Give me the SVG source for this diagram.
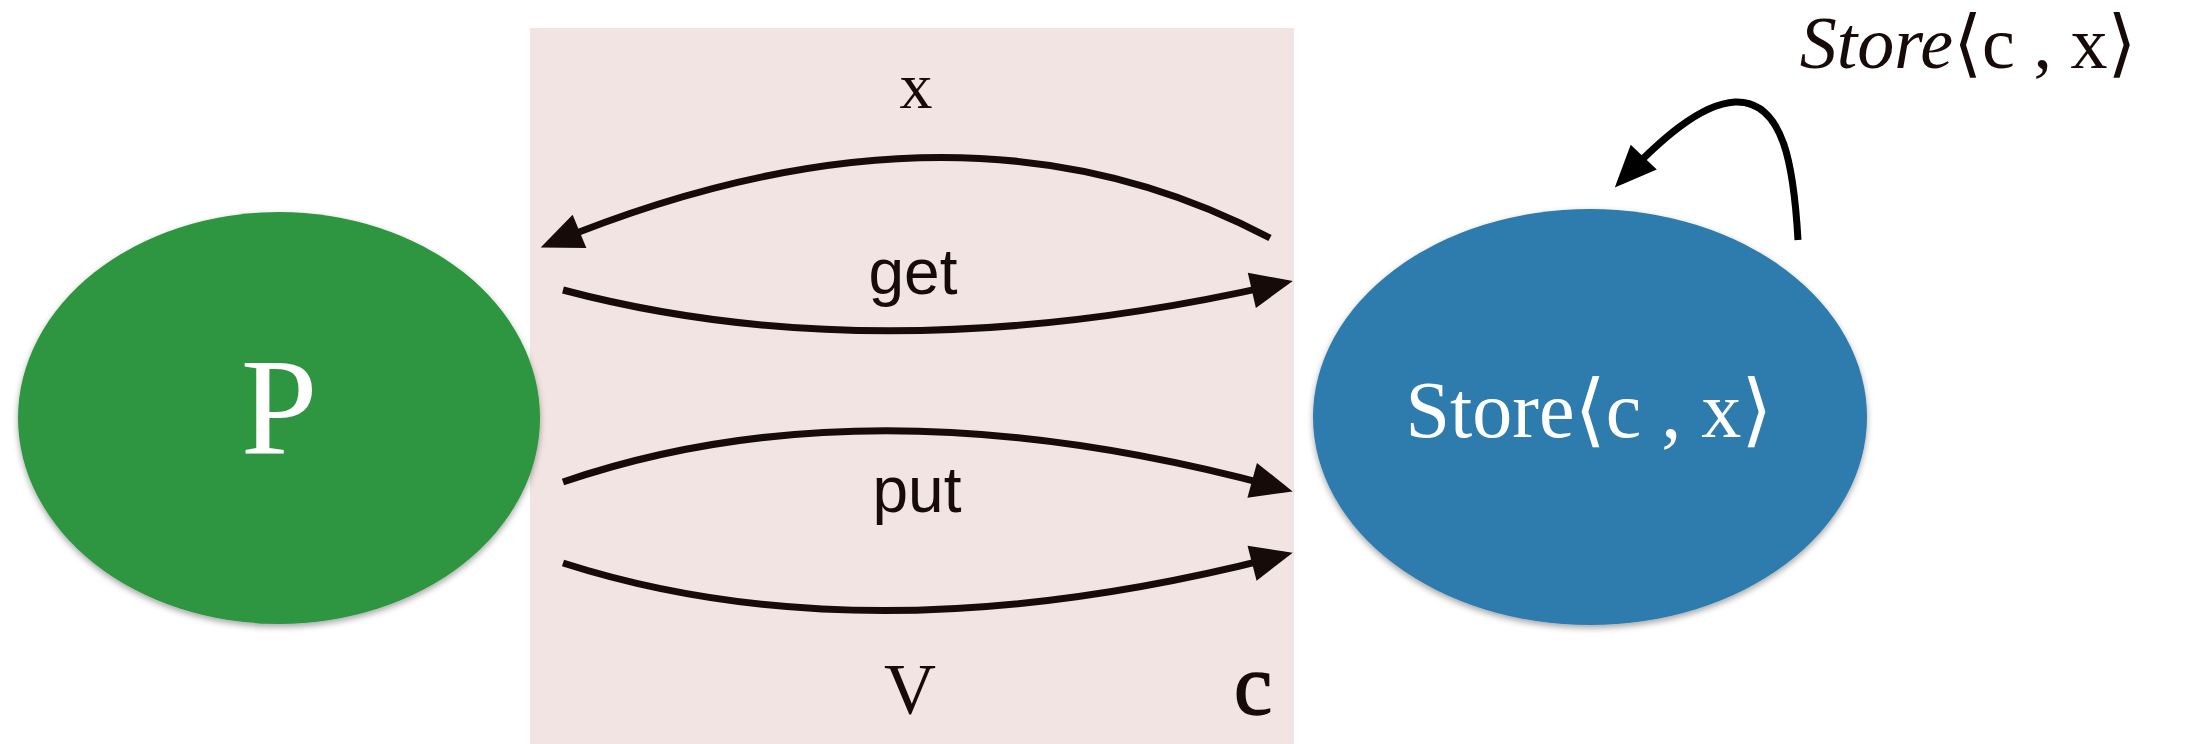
<svg xmlns="http://www.w3.org/2000/svg" width="2186" height="744" viewBox="0 0 2186 744">
<defs>
<style>
.lbl{font-family:"Liberation Serif","DejaVu Serif",serif;fill:#170b09}
.sans{font-family:"Liberation Sans","DejaVu Sans",sans-serif;fill:#170b09}
.wt{font-family:"Liberation Serif","DejaVu Serif",serif;fill:#ffffff}
.arr{fill:none;stroke:#170b09;stroke-width:7}
.loop{fill:none;stroke:#000000;stroke-width:7}
</style>
<marker id="ah" markerUnits="userSpaceOnUse" markerWidth="46" markerHeight="40" refX="33" refY="18" orient="auto" overflow="visible">
<path d="M0,0 L42,18 L0,36 z" fill="#170b09"/>
</marker>
<marker id="ahk" markerUnits="userSpaceOnUse" markerWidth="46" markerHeight="40" refX="33" refY="18" orient="auto" overflow="visible">
<path d="M0,0 L42,18 L0,36 z" fill="#000000"/>
</marker>
<filter id="sh" x="-10%" y="-10%" width="120%" height="125%">
<feDropShadow dx="0" dy="3" stdDeviation="3" flood-color="#000" flood-opacity="0.35"/>
</filter>
</defs>
<rect width="2186" height="744" fill="#ffffff"/>
<g id="channel">
<rect x="530" y="28" width="764" height="716" fill="#f2e4e2"/>
<text class="lbl" x="1253" y="714" font-size="86" text-anchor="middle" stroke="#170b09" stroke-width="1.5">c</text>
</g>
<g id="P">
<ellipse cx="279" cy="418" rx="261" ry="206" fill="#2e963f" filter="url(#sh)"/>
<text class="wt" x="279" y="453" font-size="138" text-anchor="middle">P</text>
</g>
<g id="Store">
<ellipse cx="1590" cy="417" rx="277" ry="208" fill="#2e7cad" filter="url(#sh)"/>
<text class="wt" x="1589" y="437" font-size="80" text-anchor="middle">Store⟨c , x⟩</text>
</g>
<g id="connectors">
<path class="arr" d="M1270,238 Q960,74 549,244" marker-end="url(#ah)"/>
<path class="arr" d="M563,290 Q884,375 1284,283" marker-end="url(#ah)"/>
<path class="arr" d="M563,482 Q872,376 1284,489" marker-end="url(#ah)"/>
<path class="arr" d="M563,563 Q872,662 1284,555" marker-end="url(#ah)"/>
<path class="loop" d="M1798,240 C1794,170 1785,100 1735,102 C1700,104 1660,140 1621,181" marker-end="url(#ahk)"/>
</g>
<g id="labels">
<text class="lbl" x="916" y="108" font-size="66" text-anchor="middle">x</text>
<text class="sans" x="913" y="294" font-size="64" text-anchor="middle">get</text>
<text class="sans" x="917" y="512" font-size="64" text-anchor="middle">put</text>
<text class="lbl" x="910" y="713" font-size="72" text-anchor="middle">V</text>
<text class="lbl" x="1968" y="68" font-size="74" text-anchor="middle"><tspan font-style="italic">Store</tspan>⟨c , x⟩</text>
</g>
</svg>
